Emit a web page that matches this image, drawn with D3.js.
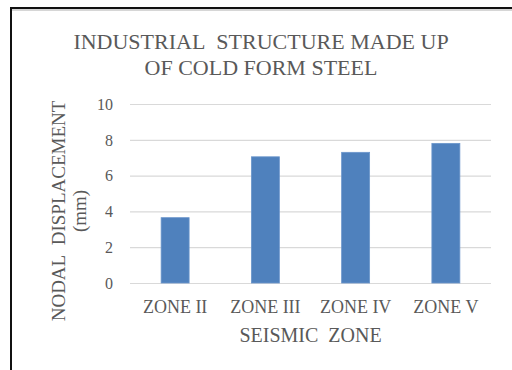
<!DOCTYPE html>
<html>
<head>
<meta charset="utf-8">
<script src="https://cdn.jsdelivr.net/npm/d3@7"></script>
<style>
  body { margin: 0; background: #fff; }
  svg { display: block; }
  text { font-family: 'Liberation Serif', 'Times New Roman', serif; fill: #595959; }
</style>
</head>
<body>
<svg class="chart" width="512" height="370"></svg>
<script>
const zones = ["ZONE II", "ZONE III", "ZONE IV", "ZONE V"];
const displacement = [3.65, 7.05, 7.3, 7.8];
const yTicks = [0, 2, 4, 6, 8, 10];
const titleLines = ["INDUSTRIAL\u00a0 STRUCTURE MADE UP", "OF COLD FORM STEEL"];
const yTitleLines = ["NODAL\u00a0 DISPLACEMENT", "(mm)"];
const xTitle = "SEISMIC\u00a0 ZONE";

function drawChart() {
  const svg = d3.select('svg.chart');
  const plot = {left: 130, right: 491, top: 104, bottom: 283};

  // frame of the pasted picture
  svg.append('line').attr('x1', 10).attr('x2', 512).attr('y1', 10).attr('y2', 10)
    .attr('stroke', '#c8c8c8').attr('stroke-width', 1.5);
  svg.append('line').attr('x1', 10).attr('x2', 512).attr('y1', 8).attr('y2', 8)
    .attr('stroke', '#111').attr('stroke-width', 2);
  svg.append('line').attr('x1', 11).attr('x2', 11).attr('y1', 7).attr('y2', 370)
    .attr('stroke', '#111').attr('stroke-width', 2);

  const x = d3.scaleBand()
    .domain(zones)
    .range([plot.left, plot.right])
    .paddingInner(0.69)
    .paddingOuter(0.345);

  const y = d3.scaleLinear()
    .domain([0, 10])
    .range([plot.bottom, plot.top]);

  // gridlines
  svg.append('g')
    .selectAll('line')
    .data(yTicks)
    .enter()
    .append('line')
    .attr('x1', plot.left)
    .attr('x2', plot.right)
    .attr('y1', d => y(d) + 0.5)
    .attr('y2', d => y(d) + 0.5)
    .attr('stroke', '#d9d9d9')
    .attr('stroke-width', 1.2);

  const yAxis = d3.axisLeft(y).tickValues(yTicks).tickSize(0).tickPadding(0);
  const yg = svg.append('g')
    .attr('transform', `translate(113, 0)`)
    .call(yAxis);
  yg.select('.domain').remove();
  yg.selectAll('text')
    .style('font-size', '16px')
    .attr('fill', '#595959')
    .attr('dy', '0.33em')
    .style('font-family', "'Liberation Serif', serif");

  svg.append('g')
    .selectAll('rect')
    .data(displacement)
    .enter()
    .append('rect')
    .attr('x', (d, i) => x(zones[i]))
    .attr('y', d => y(d))
    .attr('width', x.bandwidth())
    .attr('height', d => y(0) - y(d))
    .attr('fill', '#4f81bd')
    .attr('stroke', '#6b96cc')
    .attr('stroke-width', 0.8);

  const xAxis = d3.axisBottom(x).tickSize(0).tickPadding(0);
  const xg = svg.append('g')
    .attr('transform', `translate(0, ${plot.bottom})`)
    .call(xAxis);
  xg.select('.domain').remove();
  xg.selectAll('text')
    .attr('dy', null)
    .attr('y', 30)
    .attr('fill', '#595959')
    .style('font-size', '18px')
    .style('font-family', "'Liberation Serif', serif");

  svg.append('text')
    .attr('x', (plot.left + plot.right) / 2)
    .attr('y', 342)
    .attr('text-anchor', 'middle')
    .style('font-size', '20px')
    .text(xTitle);

  svg.append('text')
    .attr('text-anchor', 'middle')
    .style('font-size', '22px')
    .selectAll('tspan')
    .data(titleLines)
    .enter()
    .append('tspan')
    .attr('x', 261)
    .attr('y', (d, i) => 49 + i * 26)
    .text(d => d);

  svg.append('text')
    .attr('text-anchor', 'middle')
    .attr('transform', 'translate(0, 211) rotate(-90)')
    .style('font-size', '19px')
    .selectAll('tspan')
    .data(yTitleLines)
    .enter()
    .append('tspan')
    .attr('x', 0)
    .attr('y', (d, i) => 65 + i * 21)
    .text(d => d);
}

drawChart();
</script>
</body>
</html>
